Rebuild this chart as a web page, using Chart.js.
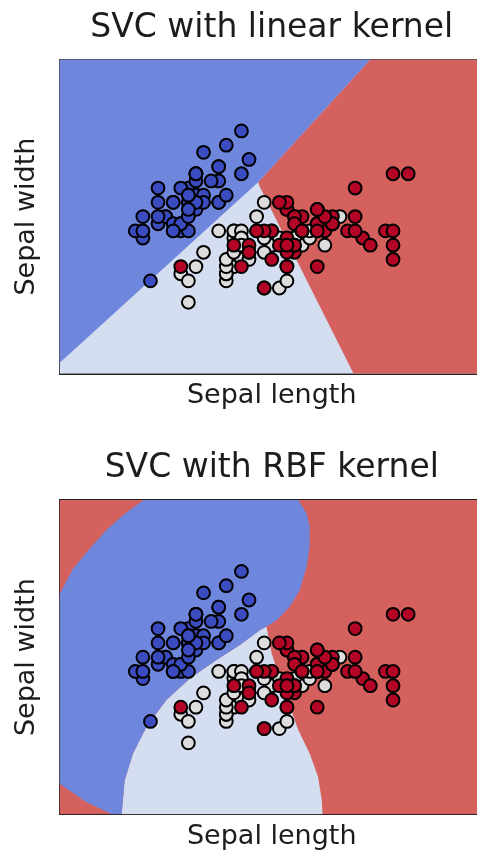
<!DOCTYPE html>
<html><head><meta charset="utf-8">
<script src="https://cdn.jsdelivr.net/npm/chart.js@4.4.1/dist/chart.umd.min.js"></script>
<style>
html,body{margin:0;padding:0;background:#fff;overflow:hidden;width:477px;height:855px;}
.box{position:absolute;left:0;width:500px;}
#b1{top:0;height:440px}
#b2{top:440px;height:415px}
</style></head><body>
<div class="box" id="b1"><canvas id="c1"></canvas></div>
<div class="box" id="b2"><canvas id="c2"></canvas></div>
<script>
// ---- axis ranges ----
const xRange = [3.3, 8.9];
const yRange = [1.0, 5.4];
const titles = ['SVC with linear kernel', 'SVC with RBF kernel'];
const xLabel = 'Sepal length';
const yLabel = 'Sepal width';

// ---- iris samples (sepal length, sepal width) ----
const setosaLength = [5.1,4.9,4.7,4.6,5.0,5.4,4.6,5.0,4.4,4.9,5.4,4.8,4.8,4.3,5.8,5.7,5.4,5.1,5.7,5.1,5.4,5.1,4.6,5.1,4.8,5.0,5.0,5.2,5.2,4.7,4.8,5.4,5.2,5.5,4.9,5.0,5.5,4.9,4.4,5.1,5.0,4.5,4.4,5.0,5.1,4.8,5.1,4.6,5.3,5.0];
const setosaWidth  = [3.5,3.0,3.2,3.1,3.6,3.9,3.4,3.4,2.9,3.1,3.7,3.4,3.0,3.0,4.0,4.4,3.9,3.5,3.8,3.8,3.4,3.7,3.6,3.3,3.4,3.0,3.4,3.5,3.4,3.2,3.1,3.4,4.1,4.2,3.1,3.2,3.5,3.6,3.0,3.4,3.5,2.3,3.2,3.5,3.8,3.0,3.8,3.2,3.7,3.3];
const versicolorLength = [7.0,6.4,6.9,5.5,6.5,5.7,6.3,4.9,6.6,5.2,5.0,5.9,6.0,6.1,5.6,6.7,5.6,5.8,6.2,5.6,5.9,6.1,6.3,6.1,6.4,6.6,6.8,6.7,6.0,5.7,5.5,5.5,5.8,6.0,5.4,6.0,6.7,6.3,5.6,5.5,5.5,6.1,5.8,5.0,5.6,5.7,5.7,6.2,5.1,5.7];
const versicolorWidth  = [3.2,3.2,3.1,2.3,2.8,2.8,3.3,2.4,2.9,2.7,2.0,3.0,2.2,2.9,2.9,3.1,3.0,2.7,2.2,2.5,3.2,2.8,2.5,2.8,2.9,3.0,2.8,3.0,2.9,2.6,2.4,2.4,2.7,2.7,3.0,3.4,3.1,2.3,3.0,2.5,2.6,3.0,2.6,2.3,2.7,3.0,2.9,2.9,2.5,2.8];
const virginicaLength = [6.3,5.8,7.1,6.3,6.5,7.6,4.9,7.3,6.7,7.2,6.5,6.4,6.8,5.7,5.8,6.4,6.5,7.7,7.7,6.0,6.9,5.6,7.7,6.3,6.7,7.2,6.2,6.1,6.4,7.2,7.4,7.9,6.4,6.3,6.1,7.7,6.3,6.4,6.0,6.9,6.7,6.9,5.8,6.8,6.7,6.7,6.3,6.5,6.2,5.9];
const virginicaWidth  = [3.3,2.7,3.0,2.9,3.0,3.0,2.5,2.9,2.5,3.6,3.2,2.7,3.0,2.5,2.8,3.2,3.0,3.8,2.6,2.2,3.2,2.8,2.8,2.7,3.3,3.2,2.8,3.0,2.8,3.0,2.8,3.8,2.8,2.8,2.6,3.0,3.4,3.1,3.0,3.1,3.1,3.1,2.7,3.2,3.3,3.0,2.5,3.0,3.4,3.0];

// ---- decision regions (data coordinates) ----
const plotBox = [[3.3,5.4],[8.9,5.4],[8.9,1.0],[3.3,1.0]];
const linearBlueRegion = [[3.3,5.4],[7.40,5.4],[5.92,3.68],[3.3,1.15]];
const linearRedRegion  = [[7.40,5.4],[8.9,5.4],[8.9,1.0],[7.18,1.0],[5.94,3.62],[5.92,3.68]];
const rbfBlueRegion = [
  [3.3,4.08],[3.48,4.44],[3.70,4.72],[3.92,4.98],[4.14,5.19],[4.41,5.4],
  [6.45,5.4],[6.56,5.21],[6.60,5.03],[6.60,4.75],[6.56,4.47],[6.47,4.14],[6.34,3.91],[6.17,3.72],[5.99,3.60],[5.96,3.59],
  [5.68,3.37],[5.37,3.16],[5.02,2.90],[4.71,2.60],[4.45,2.23],[4.27,1.85],[4.16,1.48],[4.12,1.0],
  [3.99,1.0],[3.64,1.18],[3.3,1.43]
];
const rbfWhiteRegion = [
  [5.96,3.59],[5.68,3.37],[5.37,3.16],[5.02,2.90],[4.71,2.60],[4.45,2.23],[4.27,1.85],[4.16,1.48],[4.12,1.0],
  [6.77,1.0],[6.76,1.20],[6.71,1.53],[6.60,1.85],[6.45,2.18],[6.34,2.51],[6.21,2.88],[6.10,3.25],[6.03,3.63]
];

// ---- styling ----
const FONT = "'DejaVu Sans', sans-serif";
const TEXT = '#1c1c1c';
const EDGE = '#222222';
const COL_BLUE_REGION = '#6f86dd';
const COL_WHITE_REGION = '#d4def0';
const COL_RED_REGION = '#d4615d';
const COL_SETOSA = '#3b4cc0';
const COL_VERSICOLOR = '#dddddd';
const COL_VIRGINICA = '#b40426';

function toPts(xs, ys){ return xs.map((x,i)=>({x:x, y:ys[i]})); }
function polyPts(p){ return p.map(v=>({x:v[0], y:v[1]})); }

function regionDataset(poly, color, order){
  return {type:'line', data: polyPts(poly), fill:'shape', backgroundColor: color,
    borderWidth:0, pointRadius:0, pointHoverRadius:0, tension:0, order:order};
}
function pointDataset(xs, ys, color, order){
  return {type:'scatter', data: toPts(xs, ys), backgroundColor: color, borderColor:'#000',
    borderWidth:2, pointRadius:6.4, pointHoverRadius:6.4, order:order};
}

function axisTitle(text, size, pt, pb){
  return {display:true, text:text, color:TEXT, font:{family:FONT, size:size, lineHeight:1.2}, padding:{top:pt, bottom:pb}};
}
function scale(pos, range, title){
  return {type:'linear', position:pos, min:range[0], max:range[1],
    ticks:{display:false}, grid:{display:false, drawTicks:false, tickLength:0},
    border:{display:true, color:EDGE, width:2},
    title: title || {display:false}};
}

function makeChart(id, titleText, regions, g){
  const datasets = regions.concat([
    pointDataset(setosaLength, setosaWidth, COL_SETOSA, 3),
    pointDataset(versicolorLength, versicolorWidth, COL_VERSICOLOR, 2),
    pointDataset(virginicaLength, virginicaWidth, COL_VIRGINICA, 1)
  ]);
  return new Chart(document.getElementById(id), {
    type:'scatter',
    data:{datasets:datasets},
    options:{
      responsive:true, maintainAspectRatio:false, animation:false,
      events:[],
      layout:{padding:{left:0, right:16, top:0, bottom:0}},
      plugins:{legend:{display:false}, tooltip:{enabled:false}, title:{display:false}},
      scales:{
        x: scale('bottom', xRange, axisTitle(xLabel, 27, g.xpt, g.xpb)),
        xTop: scale('top', xRange, axisTitle(titleText, 33, g.tpt, g.tpb)),
        y: scale('left', yRange, axisTitle(yLabel, 27, 10.8, 16.3)),
        yRight: scale('right', yRange, null)
      }
    }
  });
}

makeChart('c1', titles[0], [
  regionDataset(plotBox, COL_WHITE_REGION, 20),
  regionDataset(linearBlueRegion, COL_BLUE_REGION, 10),
  regionDataset(linearRedRegion, COL_RED_REGION, 10)
], {tpt:8.2, tpb:11.7, xpt:6.1, xpb:27.8});

makeChart('c2', titles[1], [
  regionDataset(plotBox, COL_RED_REGION, 20),
  regionDataset(rbfBlueRegion, COL_BLUE_REGION, 10),
  regionDataset(rbfWhiteRegion, COL_WHITE_REGION, 10)
], {tpt:8.7, tpb:11.7, xpt:6.5, xpb:1.8});
</script>
</body></html>
